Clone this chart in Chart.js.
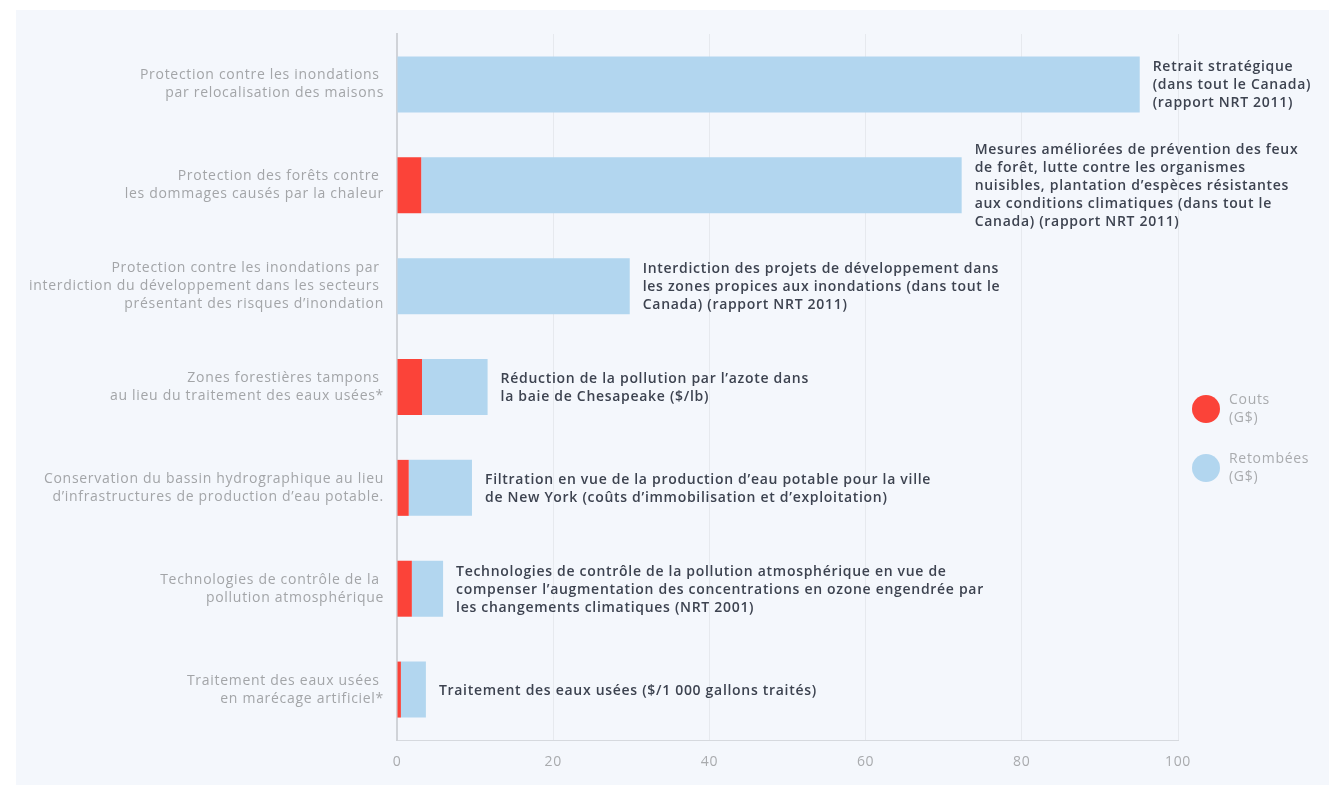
<!DOCTYPE html>
<html>
<head>
<meta charset="utf-8">
<script src="https://cdn.jsdelivr.net/npm/chart.js@4.4.1/dist/chart.umd.min.js"></script>
<style>
  body { margin: 0; background: #fff; }
  #panel { position: absolute; left: 16px; top: 10px; width: 1313px; height: 775px; background: #f4f7fc; }
  #chart { position: absolute; left: 0; top: 0; }
</style>
</head>
<body>
<div id="panel"><canvas id="chart" width="1313" height="775"></canvas></div>
<script>
/* ---- data ---- */
var categories = [
  ['Protection contre les inondations ', 'par relocalisation des maisons'],
  ['Protection des forêts contre ', 'les dommages causés par la chaleur'],
  ['Protection contre les inondations par ', 'interdiction du développement dans les secteurs ', 'présentant des risques d\u2019inondation'],
  ['Zones forestières tampons ', 'au lieu du traitement des eaux usées*'],
  ['Conservation du bassin hydrographique au lieu', 'd\u2019infrastructures de production d\u2019eau potable.'],
  ['Technologies de contrôle de la ', 'pollution atmosphérique'],
  ['Traitement des eaux usées ', 'en marécage artificiel*']
];
var couts = [0, 3.1, 0, 3.2, 1.5, 1.9, 0.5];
var retombees = [95.1, 69.2, 29.8, 8.4, 8.1, 4.0, 3.2];
var notes = [
  ['Retrait stratégique', '(dans tout le Canada)', '(rapport NRT 2011)'],
  ['Mesures améliorées de prévention des feux', 'de forêt, lutte contre les organismes', 'nuisibles, plantation d\u2019espèces résistantes', 'aux conditions climatiques (dans tout le', 'Canada) (rapport NRT 2011)'],
  ['Interdiction des projets de développement dans', 'les zones propices aux inondations (dans tout le', 'Canada) (rapport NRT 2011)'],
  ['Réduction de la pollution par l\u2019azote dans', 'la baie de Chesapeake ($/lb)'],
  ['Filtration en vue de la production d\u2019eau potable pour la ville', 'de New York (coûts d\u2019immobilisation et d\u2019exploitation)'],
  ['Technologies de contrôle de la pollution atmosphérique en vue de', 'compenser l\u2019augmentation des concentrations en ozone engendrée par', 'les changements climatiques (NRT 2001)'],
  ['Traitement des eaux usées ($/1 000 gallons traités)']
];
var seriesNames = [['Couts', '(G$)'], ['Retombées', '(G$)']];
var red = '#fb4339';
var blue = '#b2d6ef';
var fontFam = '"Open Sans", sans-serif';

// a bit of letter spacing so the text is as wide as the original
const spacingPlugin = {
  id: 'spacing',
  beforeDraw(chart) { chart.ctx.letterSpacing = '0.7px'; }
};

// notes next to each bar
const notesPlugin = {
  id: 'notes',
  afterDatasetsDraw(chart) {
    const ctx = chart.ctx;
    const meta = chart.getDatasetMeta(1);
    ctx.save();
    ctx.font = '600 14px ' + fontFam;
    ctx.fillStyle = '#3d4350';
    ctx.textAlign = 'left';
    ctx.textBaseline = 'middle';
    meta.data.forEach((bar, i) => {
      const lines = notes[i];
      const x = bar.x + 13;
      const y0 = bar.y + 1 - (lines.length - 1) * 18 / 2;
      lines.forEach((l, j) => ctx.fillText(l, x, y0 + j * 18));
    });
    ctx.restore();
  }
};

// legend on the right
const legendPlugin = {
  id: 'sideLegend',
  afterDraw(chart) {
    const ctx = chart.ctx;
    const cols = [red, blue];
    const ys = [399, 458];
    ctx.save();
    ctx.font = '14px ' + fontFam;
    ctx.textBaseline = 'middle';
    cols.forEach((c, i) => {
      ctx.beginPath();
      ctx.arc(1190, ys[i], 14, 0, Math.PI * 2);
      ctx.fillStyle = c;
      ctx.fill();
      ctx.fillStyle = '#a9abae';
      ctx.fillText(seriesNames[i][0], 1213, ys[i] - 9);
      ctx.fillText(seriesNames[i][1], 1213, ys[i] + 9);
    });
    ctx.restore();
  }
};

const chart = new Chart(document.getElementById('chart'), {
  type: 'bar',
  data: {
    labels: categories,
    datasets: [
      { label: 'Couts (G$)', data: couts, backgroundColor: red },
      { label: 'Retombées (G$)', data: retombees, backgroundColor: blue }
    ]
  },
  options: {
    indexAxis: 'y',
    responsive: false,
    animation: false,
    categoryPercentage: 1,
    barPercentage: 0.555,
    layout: { padding: { top: 24, right: 151, left: 0, bottom: 0 } },
    plugins: { legend: { display: false }, tooltip: { enabled: false } },
    scales: {
      x: {
        stacked: true,
        min: 0, max: 100,
        ticks: { stepSize: 20, color: '#a9abae', padding: 14, font: { family: fontFam, size: 14 } },
        grid: { color: '#e6e9ee', drawTicks: false },
        border: { color: '#d6d9de', width: 1 },
        afterFit(s) { s.height = 45; }
      },
      y: {
        stacked: true,
        ticks: { color: '#a3a5a8', padding: 13, font: { family: fontFam, size: 14, lineHeight: 1.29 } },
        grid: { display: false, drawTicks: false },
        border: { color: '#d0d3d8', width: 2 },
        afterFit(s) { s.width = 381; s.paddingTop = 0; s.paddingBottom = 0; }
      }
    }
  },
  plugins: [spacingPlugin, notesPlugin, legendPlugin]
});
</script>
</body>
</html>
